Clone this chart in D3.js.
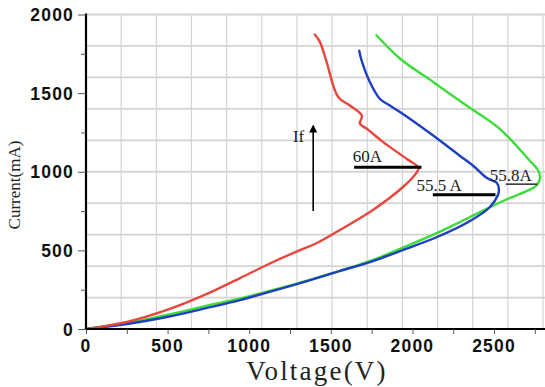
<!DOCTYPE html>
<html>
<head>
	<meta charset="utf-8">
	<title>Current vs Voltage</title>
	<style type="text/css">
		body { margin: 0; background-color: #fff; }
		svg { display: block; background-color: #fff; }
		.grid line { stroke: #d4d4d4; }
		.tickLabel { font-family: 'Liberation Sans', Arial, sans-serif; font-weight: bold; font-size: 17.5px; letter-spacing: 1.2px; fill: #111; }
		.note { font-family: 'Liberation Serif', 'Times New Roman', serif; font-size: 17px; fill: #222; }
		.curve { fill: none; stroke-width: 2.4px; stroke-linejoin: round; stroke-linecap: round; }
	</style>
	<script type="text/javascript" src="https://cdn.jsdelivr.net/npm/d3@7"></script>
</head>
<body>
	<div id="chart"></div>
	<script type="text/javascript">
		var width = 545, height = 387;

		// tick labels
		var xTicks = [0, 500, 1000, 1500, 2000, 2500];
		var yTicks = [0, 500, 1000, 1500, 2000];

		// [voltage (V), current (mA)], in drawing order
		var red60A = [[0,0],[251,45],[496,121],[741,223],[944,324],[1146,426],[1311,502],[1415,547],[1556,630],
			[1758,757],[1942,903],[2022,990],[2038,1025],[1966,1081],[1819,1190],[1721,1273],[1678,1305],[1690,1356],
			[1617,1421],[1545,1475],[1474,1699],[1433,1826],[1402,1873]];
		var blue555A = [[0,0],[251,32],[496,76],[741,134],[944,184],[1146,242],[1354,305],[1556,369],[1758,432],
			[1924,496],[2151,585],[2353,687],[2475,776],[2524,852],[2530,888],[2518,929],[2457,960],
			[2372,1038],[2290,1102],[2127,1230],[1984,1337],[1862,1421],[1800,1464],[1739,1571],[1688,1709],[1674,1769]];
		var green558A = [[0,0],[251,38],[496,89],[741,149],[944,194],[1146,248],[1354,308],[1556,369],[1758,439],
			[1924,509],[2151,611],[2353,712],[2555,814],[2702,878],[2763,916],[2782,967],[2769,1011],
			[2719,1070],[2535,1273],[2331,1421],[2127,1571],[1923,1720],[1780,1868]];

		var svg = d3.select('#chart').append('svg')
			.attr('width', width).attr('height', height);

		var xScale = d3.scaleLinear().domain([0, 2800]).range([86, 543]);
		var yScale = d3.scaleLinear().domain([0, 2000]).range([329, 14.5]);

		// grid: 13 columns, rows every 200 mA
		var grid = svg.append('g').attr('class', 'grid');
		grid.selectAll('.v').data(d3.range(1, 14).map(function(i){ return i * 2800 / 13; }))
			.enter().append('line')
			.attr('x1', function(d){ return xScale(d); }).attr('x2', function(d){ return xScale(d); })
			.attr('y1', yScale(2000)).attr('y2', yScale(0))
			.style('stroke-width', 1.2);
		grid.selectAll('.h').data(d3.range(200, 2001, 200))
			.enter().append('line')
			.attr('x1', xScale(0)).attr('x2', width)
			.attr('y1', function(d){ return yScale(d); }).attr('y2', function(d){ return yScale(d); })
			.style('stroke-width', 1.8);

		// curves
		var line = d3.line()
			.curve(d3.curveCatmullRom.alpha(0.5))
			.x(function(d){ return xScale(d[0]); })
			.y(function(d){ return yScale(d[1]); });

		svg.append('path').datum(green558A).attr('class', 'curve').attr('d', line).style('stroke', '#3ddc3a');
		svg.append('path').datum(blue555A).attr('class', 'curve').attr('d', line).style('stroke', '#1c3fbf');
		svg.append('path').datum(red60A).attr('class', 'curve').attr('d', line).style('stroke', '#e8473e');

		// axes
		var xAxis = d3.axisBottom(xScale).tickValues(d3.range(0, 2800, 250)).tickSize(5).tickFormat('');
		var yAxis = d3.axisLeft(yScale).tickValues(d3.range(0, 2001, 250)).tickSize(5).tickFormat('');

		var xAxisG = svg.append('g').attr('transform', 'translate(0,' + yScale(0) + ')').call(xAxis);
		var yAxisG = svg.append('g').attr('transform', 'translate(' + xScale(0) + ',0)').call(yAxis);
		xAxisG.select('.domain').attr('d', 'M' + xScale(0) + ',0H' + width).style('stroke', '#000').style('stroke-width', 2.2);
		yAxisG.select('.domain').attr('d', 'M0,' + (yScale(2000) - 1) + 'V' + yScale(0)).style('stroke', '#000').style('stroke-width', 2.2);
		xAxisG.selectAll('.tick line').style('stroke', '#555');
		yAxisG.selectAll('.tick line').style('stroke', '#555')
			.attr('x2', function(d){ return d % 500 === 0 ? -8 : -5; });

		svg.selectAll('.xLabel').data(xTicks).enter().append('text')
			.attr('class', 'tickLabel')
			.attr('x', function(d){ return xScale(d); })
			.attr('y', 352)
			.attr('text-anchor', 'middle')
			.text(function(d){ return d; });

		svg.selectAll('.yLabel').data(yTicks).enter().append('text')
			.attr('class', 'tickLabel')
			.attr('x', 74)
			.attr('y', function(d){ return yScale(d) + 6.5; })
			.attr('text-anchor', 'end')
			.text(function(d){ return d; });

		// axis titles
		svg.append('text')
			.attr('x', 317).attr('y', 380)
			.attr('text-anchor', 'middle')
			.style('font-family', "'Liberation Serif', 'Times New Roman', serif")
			.style('font-size', '27px').style('letter-spacing', '2.2px').style('fill', '#222')
			.text('Voltage(V)');

		svg.append('text')
			.attr('transform', 'translate(20,185) rotate(-90)')
			.attr('text-anchor', 'middle')
			.style('font-family', "'Liberation Serif', 'Times New Roman', serif")
			.style('font-size', '17px').style('fill', '#222')
			.text('Current(mA)');

		// annotations
		svg.append('defs').append('marker')
			.attr('id', 'head').attr('viewBox', '0 0 10 10')
			.attr('refX', 5).attr('refY', 5)
			.attr('markerWidth', 5).attr('markerHeight', 7)
			.attr('orient', 'auto')
			.append('path').attr('d', 'M0,0L10,5L0,10z').style('fill', '#000');

		svg.append('line')
			.attr('x1', xScale(1392)).attr('x2', xScale(1392))
			.attr('y1', yScale(751)).attr('y2', yScale(1275))
			.style('stroke', '#000').style('stroke-width', 1.6)
			.attr('marker-end', 'url(#head)');
		svg.append('text').attr('class', 'note')
			.attr('x', xScale(1268)).attr('y', yScale(1192))
			.text('If');

		var notes = [
			{ label: '60A', v: 1635, i: 1062, u0: 1643, u1: 2055, ui: 1028, w: 3 },
			{ label: '55.5 A', v: 2025, i: 879, u0: 2125, u1: 2509, ui: 853, w: 3 },
			{ label: '55.8A', v: 2474, i: 943, u0: 2572, u1: 2765, ui: 921, w: 1.2 }
		];
		svg.selectAll('.noteText').data(notes).enter().append('text')
			.attr('class', 'note')
			.attr('x', function(d){ return xScale(d.v); })
			.attr('y', function(d){ return yScale(d.i); })
			.text(function(d){ return d.label; });
		svg.selectAll('.noteLine').data(notes).enter().append('line')
			.attr('x1', function(d){ return xScale(d.u0); })
			.attr('x2', function(d){ return xScale(d.u1); })
			.attr('y1', function(d){ return yScale(d.ui); })
			.attr('y2', function(d){ return yScale(d.ui); })
			.style('stroke', '#000')
			.style('stroke-width', function(d){ return d.w; });
	</script>
</body>
</html>
